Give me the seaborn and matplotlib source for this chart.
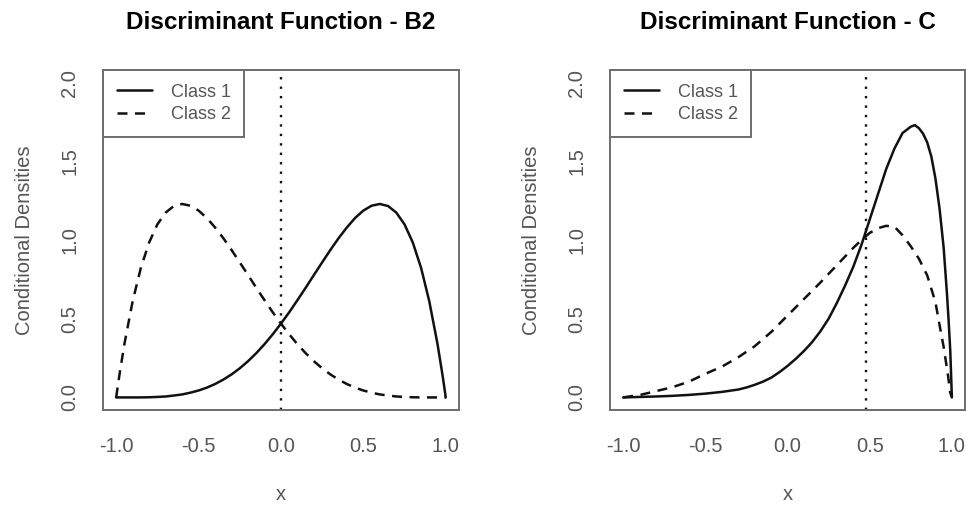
import numpy as np
import pandas as pd
import matplotlib
matplotlib.use("Agg")
import matplotlib.pyplot as plt
import seaborn as sns

# ==========================================
# DATA
# ==========================================
# Panel B2: class 1 skewed right, class 2 is its mirror image
b2_x = [-1.0, -0.98, -0.95, -0.9, -0.85, -0.8, -0.75, -0.7, -0.65, -0.6, -0.55,
        -0.5, -0.45, -0.4, -0.35, -0.3, -0.25, -0.2, -0.15, -0.1, -0.05, 0.0,
        0.05, 0.1, 0.15, 0.2, 0.25, 0.3, 0.35, 0.4, 0.45, 0.5, 0.55, 0.6, 0.65,
        0.7, 0.75, 0.8, 0.85, 0.9, 0.95, 0.98, 1.0]
b2_class1 = [0.0, 0.0, 0.0, 0.0, 0.0, 0.001, 0.003, 0.006, 0.012, 0.019, 0.03,
             0.044, 0.062, 0.085, 0.113, 0.146, 0.185, 0.23, 0.281, 0.338, 0.401,
             0.469, 0.541, 0.618, 0.697, 0.778, 0.858, 0.937, 1.012, 1.08, 1.14,
             1.187, 1.218, 1.229, 1.216, 1.174, 1.099, 0.984, 0.824, 0.611, 0.339,
             0.144, 0.0]
b2_class2 = [0.0, 0.144, 0.339, 0.611, 0.824, 0.984, 1.099, 1.174, 1.216, 1.229,
             1.218, 1.187, 1.14, 1.08, 1.012, 0.937, 0.858, 0.778, 0.697, 0.618,
             0.541, 0.469, 0.401, 0.338, 0.281, 0.23, 0.185, 0.146, 0.113, 0.085,
             0.062, 0.044, 0.03, 0.019, 0.012, 0.006, 0.003, 0.001, 0.0, 0.0, 0.0,
             0.0, 0.0]
b2_cut = 0.0

# Panel C
c1_x = [-1.0, -0.9, -0.8, -0.7, -0.6, -0.5, -0.4, -0.3, -0.25, -0.2, -0.15, -0.1,
        -0.05, 0.0, 0.05, 0.1, 0.15, 0.2, 0.25, 0.3, 0.35, 0.4, 0.45, 0.5, 0.55,
        0.6, 0.65, 0.7, 0.75, 0.775, 0.8, 0.825, 0.85, 0.875, 0.9, 0.925, 0.95,
        0.97, 0.98, 0.99, 1.0]
c_class1 = [0.0, 0.003, 0.006, 0.01, 0.016, 0.024, 0.035, 0.05, 0.063, 0.08, 0.1,
            0.125, 0.16, 0.2, 0.245, 0.295, 0.352, 0.42, 0.5, 0.6, 0.71, 0.83,
            0.97, 1.13, 1.29, 1.45, 1.58, 1.68, 1.72, 1.73, 1.71, 1.675, 1.62,
            1.53, 1.39, 1.2, 0.95, 0.66, 0.49, 0.3, 0.0]
c2_x = [-1.0, -0.95, -0.9, -0.8, -0.7, -0.6, -0.5, -0.4, -0.3, -0.2, -0.1, 0.0,
        0.1, 0.2, 0.3, 0.4, 0.45, 0.5, 0.55, 0.6, 0.65, 0.7, 0.75, 0.8, 0.85,
        0.9, 0.925, 0.95, 0.975, 0.99, 1.0]
c_class2 = [0.0, 0.008, 0.015, 0.04, 0.065, 0.1, 0.15, 0.195, 0.255, 0.325,
            0.415, 0.52, 0.625, 0.73, 0.84, 0.95, 1.0, 1.045, 1.075, 1.09, 1.085,
            1.03, 0.96, 0.88, 0.775, 0.605, 0.46, 0.32, 0.15, 0.03, 0.0]
c_cut = 0.475

titles = ["Discriminant Function - B2", "Discriminant Function - C"]
class_labels = ["Class 1", "Class 2"]
x_ticks = [-1.0, -0.5, 0.0, 0.5, 1.0]
y_ticks = [0.0, 0.5, 1.0, 1.5, 2.0]

GREY = "#555555"
FRAME = "#6e6e6e"
INK = "#111111"


def draw_panel(ax, x1, c1, x2, c2, cut, title):
    d1 = pd.DataFrame({"x": x1, "y": c1})
    d2 = pd.DataFrame({"x": x2, "y": c2})
    sns.lineplot(data=d1, x="x", y="y", ax=ax, color=INK, lw=1.8,
                 label=class_labels[0])
    sns.lineplot(data=d2, x="x", y="y", ax=ax, color=INK, lw=1.8,
                 linestyle=(0, (4, 3)), label=class_labels[1])
    ax.axvline(cut, color=INK, lw=1.7, linestyle=(0, (1.0, 3.0)))

    ax.set_xlim(-1.08, 1.08)
    ax.set_ylim(-0.08, 2.08)
    ax.set_xticks(x_ticks)
    ax.set_xticklabels(["%.1f" % v for v in x_ticks])
    ax.set_yticks(y_ticks)
    ax.set_yticklabels(["%.1f" % v for v in y_ticks], rotation=90, va="center")
    ax.tick_params(axis="both", length=8.6, width=1.4, color=FRAME,
                   labelcolor=GREY, labelsize=14.5)
    ax.tick_params(axis="x", pad=11)
    ax.tick_params(axis="y", pad=8.5)
    for sp in ax.spines.values():
        sp.set_color(FRAME)
        sp.set_linewidth(1.4)

    ax.set_xlabel("x", color=GREY, fontsize=14.5, labelpad=21)
    ax.set_ylabel("Conditional Densities", color=GREY, fontsize=14.5,
                  labelpad=19)
    ax.set_title(title, fontsize=17.5, fontweight="bold", color="black",
                 pad=29.5)

    leg = ax.legend(loc="upper left", borderaxespad=0, fancybox=False,
                    framealpha=1, edgecolor=FRAME, fontsize=13,
                    handlelength=1.95, handletextpad=1.05, labelspacing=0.3,
                    borderpad=0.75)
    leg.get_frame().set_linewidth(1.4)
    for t in leg.get_texts():
        t.set_color(GREY)


def main():
    sns.set_style("white")
    plt.rcParams["font.family"] = ["Liberation Sans", "DejaVu Sans"]
    plt.rcParams["axes.unicode_minus"] = False

    fig = plt.figure(figsize=(9.66, 5.07), dpi=100)
    ax1 = fig.add_axes([0.1066, 0.1913, 0.3685, 0.6706])
    ax2 = fig.add_axes([0.6315, 0.1913, 0.3675, 0.6706])

    draw_panel(ax1, b2_x, b2_class1, b2_x, b2_class2, b2_cut, titles[0])
    draw_panel(ax2, c1_x, c_class1, c2_x, c_class2, c_cut, titles[1])

    fig.savefig("out.png", dpi=100)


if __name__ == "__main__":
    main()
